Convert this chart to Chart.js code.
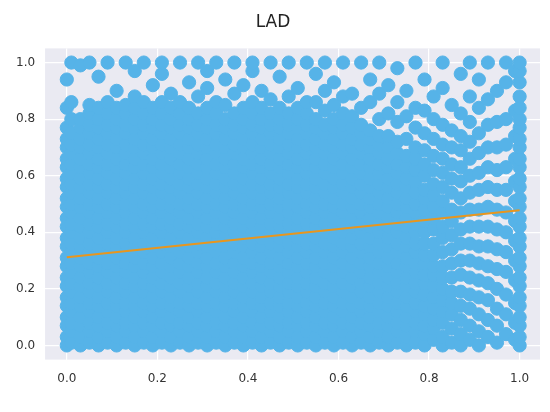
<!DOCTYPE html>
<html><head><meta charset="utf-8">
<script src="https://cdn.jsdelivr.net/npm/chart.js@4/dist/chart.umd.min.js"></script>
<style>html,body{margin:0;background:#fff}#w{width:550px;height:412px}</style>
</head><body><div id="w"><canvas id="c"></canvas></div>
<script>
const title = "LAD";
const xTicks = [0, 0.2, 0.4, 0.6, 0.8, 1.0];
const yTicks = [0, 0.2, 0.4, 0.6, 0.8, 1.0];
const fitX = [0, 1];
const fitY = [0.312, 0.478];
// scatter columns, "x: y y y ..." in hundredths
const columns = [
"0: 0 3 7 10 14 17 21 24 28 31 35 38 42 45 49 52 56 59 63 66 70 73 77 84 94",
"1: 1 5 8 12 15 19 22 26 29 33 36 40 43 47 50 54 57 61 64 68 71 75 80 86 100",
"3: 0 3 7 10 14 17 21 24 28 31 35 38 42 45 49 52 56 59 63 66 70 73 77 80 99",
"5: 1 5 8 12 15 19 22 26 29 33 36 40 43 47 50 54 57 61 64 68 71 75 78 82 85 100",
"7: 0 3 7 10 14 17 21 24 28 31 35 38 42 45 49 52 56 59 63 66 70 73 77 80 84 95",
"9: 1 5 8 12 15 19 22 26 29 33 36 40 43 47 50 54 57 61 64 68 71 75 78 82 86 100",
"11: 0 3 7 10 14 17 21 24 28 31 35 38 42 45 49 52 56 59 63 66 70 73 77 80 84 90",
"13: 1 5 8 12 15 19 22 26 29 33 36 40 43 47 50 54 57 61 64 68 71 75 78 82 85 100",
"15: 0 3 7 10 14 17 21 24 28 31 35 38 42 45 49 52 56 59 63 66 70 73 77 80 84 88 97",
"17: 1 5 8 12 15 19 22 26 29 33 36 40 43 47 50 54 57 61 64 68 71 75 78 82 86 100",
"19: 0 3 7 10 14 17 21 24 28 31 35 38 42 45 49 52 56 59 63 66 70 73 77 80 84 92",
"21: 1 5 8 12 15 19 22 26 29 33 36 40 43 47 50 54 57 61 64 68 71 75 78 82 86 96 100",
"23: 0 3 7 10 14 17 21 24 28 31 35 38 42 45 49 52 56 59 63 66 70 73 77 80 84 89",
"25: 1 5 8 12 15 19 22 26 29 33 36 40 43 47 50 54 57 61 64 68 71 75 78 82 86 100",
"27: 0 3 7 10 14 17 21 24 28 31 35 38 42 45 49 52 56 59 63 66 70 73 77 80 84 93",
"29: 1 5 8 12 15 19 22 26 29 33 36 40 43 47 50 54 57 61 64 68 71 75 78 82 88 100",
"31: 0 3 7 10 14 17 21 24 28 31 35 38 42 45 49 52 56 59 63 66 70 73 77 80 84 91 97",
"33: 1 5 8 12 15 19 22 26 29 33 36 40 43 47 50 54 57 61 64 68 71 75 78 82 86 100",
"35: 0 3 7 10 14 17 21 24 28 31 35 38 42 45 49 52 56 59 63 66 70 73 77 80 85 94",
"37: 1 5 8 12 15 19 22 26 29 33 36 40 43 47 50 54 57 61 64 68 71 75 78 82 89 100",
"39: 0 3 7 10 14 17 21 24 28 31 35 38 42 45 49 52 56 59 63 66 70 73 77 80 84 92",
"41: 1 5 8 12 15 19 22 26 29 33 36 40 43 47 50 54 57 61 64 68 71 75 78 82 86 97 100",
"43: 0 3 7 10 14 17 21 24 28 31 35 38 42 45 49 52 56 59 63 66 70 73 77 80 84 90",
"45: 1 5 8 12 15 19 22 26 29 33 36 40 43 47 50 54 57 61 64 68 71 75 78 82 87 100",
"47: 0 3 7 10 14 17 21 24 28 31 35 38 42 45 49 52 56 59 63 66 70 73 77 80 84 95",
"49: 1 5 8 12 15 19 22 26 29 33 36 40 43 47 50 54 57 61 64 68 71 75 78 82 88 100",
"51: 0 3 7 10 14 17 21 24 28 31 35 38 42 45 49 52 56 59 63 66 70 73 77 80 84 91",
"53: 1 5 8 12 15 19 22 26 29 33 36 40 43 47 50 54 57 61 64 68 71 75 78 82 86 100",
"55: 0 3 7 10 14 17 21 24 28 31 35 38 42 45 49 52 56 59 63 66 70 73 77 80 86 96",
"57: 1 5 8 12 15 19 22 26 29 33 36 40 43 47 50 54 57 61 64 68 71 75 78 83 90 100",
"59: 0 3 7 10 14 17 21 24 28 31 35 38 42 45 49 52 56 59 63 66 70 73 77 80 85 93",
"61: 1 5 8 12 15 19 22 26 29 33 36 40 43 47 50 54 57 61 64 68 71 75 78 82 88 100",
"63: 0 3 7 10 14 17 21 24 28 31 35 38 42 45 49 52 56 59 63 66 70 73 77 81 89",
"65: 1 5 8 12 15 19 22 26 29 33 36 40 43 47 50 54 57 61 64 68 71 75 78 84 100",
"67: 0 3 7 10 14 17 21 24 28 31 35 38 42 45 49 52 56 59 63 66 70 73 76 86 94",
"69: 1 5 8 12 15 19 22 26 29 33 36 40 43 47 50 54 57 61 64 68 71 74 80 89 100",
"71: 0 3 7 10 14 17 21 24 28 31 35 38 42 45 49 52 56 59 63 66 70 74 82 92",
"73: 1 5 8 12 15 19 22 26 29 33 36 40 43 47 50 54 57 61 64 68 72 79 86 98",
"75: 0 3 7 10 14 17 21 24 28 31 35 38 42 45 49 52 56 59 63 67 73 81 90",
"77: 1 5 8 12 15 19 22 26 29 33 36 40 43 47 50 54 58 62 66 70 77 84 100",
"79: 0 4 7 11 14 18 22 25 29 32 36 40 44 48 52 55 60 64 69 75 83 94",
"81: 2 6 9 13 17 21 25 28 32 36 41 45 49 53 57 62 67 73 80 88",
"83: 0 3 8 12 16 20 24 28 33 38 42 47 51 56 61 66 71 78 91 100",
"85: 1 6 11 15 19 24 29 34 39 44 48 54 59 64 70 76 85",
"87: 0 4 9 14 19 25 30 36 41 47 52 58 63 69 74 82 96",
"89: 2 7 13 18 24 30 36 42 48 54 60 66 72 79 88 100",
"91: 0 5 11 17 23 29 35 42 48 55 61 68 75 84 94",
"93: 3 9 16 22 28 35 42 49 56 63 70 78 87 100",
"95: 1 7 13 20 27 34 41 48 55 62 70 79 90",
"97: 4 11 18 26 33 40 47 55 63 71 80 93 100",
"99: 2 8 15 23 30 37 44 51 58 66 74 83 97",
"100: 0 3 7 10 14 17 21 24 28 31 35 38 42 45 49 52 56 59 63 66 70 73 77 80 84 88 93 97 100"
];
const scatterPts = [];
columns.forEach(s => {
  const [xs, ys] = s.split(":");
  const x = +xs / 100;
  ys.trim().split(/\s+/).forEach(v => scatterPts.push({x: x, y: +v / 100}));
});
const bgPlugin = {
  id: "bg",
  beforeDraw(ch) {
    const a = ch.chartArea, c = ch.ctx;
    c.save(); c.fillStyle = "#EAEAF2"; c.fillRect(a.left, a.top, a.right - a.left, a.bottom - a.top); c.restore();
  }
};
// fit line drawn on top of the points, through the chart's own scales
const fitPlugin = {
  id: "fit",
  afterDatasetsDraw(ch) {
    const sx = ch.scales.x, sy = ch.scales.y, c = ch.ctx;
    c.save(); c.strokeStyle = "#E8961E"; c.lineWidth = 2; c.beginPath();
    fitX.forEach((x, i) => { const px = sx.getPixelForValue(x), py = sy.getPixelForValue(fitY[i]); i ? c.lineTo(px, py) : c.moveTo(px, py); });
    c.stroke(); c.restore();
  }
};
new Chart(document.getElementById("c"), {
  type: "scatter",
  data: {datasets: [
    {data: scatterPts, backgroundColor: "#56B3E8", borderColor: "#56B3E8", pointRadius: 6.6, pointBorderWidth: 1}
  ]},
  options: {
    responsive: true, maintainAspectRatio: false, animation: false,
    layout: {padding: {left: 6, right: 10, top: 0, bottom: 14}},
    plugins: {legend: {display: false}, tooltip: {enabled: false},
      title: {display: true, text: title, color: "#222", font: {family: "DejaVu Sans", size: 17, weight: "normal"}, padding: {top: 12, bottom: 16}}},
    scales: {
      x: {type: "linear", min: -0.048, max: 1.045, afterBuildTicks: ax => { ax.ticks = xTicks.map(v => ({value: v})); },
        grid: {color: "#fff", lineWidth: 1.2, drawTicks: false}, border: {display: false},
        ticks: {color: "#333", padding: 12, font: {family: "DejaVu Sans", size: 12}, callback: v => (+v).toFixed(1)}},
      y: {min: -0.05, max: 1.05, afterBuildTicks: ax => { ax.ticks = yTicks.map(v => ({value: v})); },
        grid: {color: "#fff", lineWidth: 1.2, drawTicks: false}, border: {display: false},
        ticks: {color: "#333", padding: 10, font: {family: "DejaVu Sans", size: 12}, callback: v => (+v).toFixed(1)}}
    }
  },
  plugins: [bgPlugin, fitPlugin]
});
</script></body></html>
